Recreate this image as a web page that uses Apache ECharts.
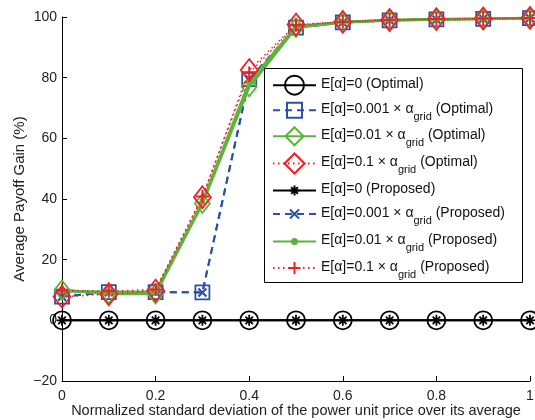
<!DOCTYPE html>
<html><head><meta charset="utf-8">
<script src="https://cdn.jsdelivr.net/npm/echarts@6/dist/echarts.min.js"></script>
<style>html,body{margin:0;padding:0;background:#fff}#c{width:535px;height:420px}</style>
</head><body><div id="c"></div>
<script>
// ---- data ----
const xValues = [0, 0.1, 0.2, 0.3, 0.4, 0.5, 0.6, 0.7, 0.8, 0.9, 1.0];
const optZero   = [0, 0, 0, 0, 0, 0, 0, 0, 0, 0, 0];
const opt001    = [7.8, 9.3, 9.3, 9.2, 79.5, 96.5, 98.2, 98.9, 99.2, 99.4, 99.6];
const opt01     = [10.0, 8.7, 8.7, 38.5, 77.0, 96.5, 98.2, 98.9, 99.2, 99.4, 99.6];
const opt1      = [7.8, 8.6, 9.8, 40.6, 82.5, 97.5, 98.4, 99.0, 99.3, 99.5, 99.7];
const propZero  = [0, 0, 0, 0, 0, 0, 0, 0, 0, 0, 0];
const prop001   = [7.8, 9.3, 9.3, 9.2, 79.5, 96.5, 98.2, 98.9, 99.2, 99.4, 99.6];
const prop01    = [9.6, 9.4, 9.4, 39.0, 78.5, 96.8, 98.3, 99.0, 99.2, 99.4, 99.6];
const prop1     = [9.8, 9.6, 10.2, 40.8, 81.5, 97.3, 98.4, 99.1, 99.3, 99.5, 99.7];
const yTicks = [-20, 0, 20, 40, 60, 80, 100];
const xTicks = [0, 0.2, 0.4, 0.6, 0.8, 1];
const seriesNames = [
  'E[α]=0 (Optimal)',
  'E[α]=0.001 × α_grid (Optimal)',
  'E[α]=0.01 × α_grid (Optimal)',
  'E[α]=0.1 × α_grid (Optimal)',
  'E[α]=0 (Proposed)',
  'E[α]=0.001 × α_grid (Proposed)',
  'E[α]=0.01 × α_grid (Proposed)',
  'E[α]=0.1 × α_grid (Proposed)'
];

// ---- styles ----
const BLACK = '#000000', BLUE = '#2c50a8', GREEN = '#5cb43c', RED = '#ee2026';
const NONE = 'rgba(0,0,0,0)';
const P_AST = 'path://M0,5L10,5M5,0L5,10M1.6,1.6L8.4,8.4M1.6,8.4L8.4,1.6';
const P_X = 'path://M0,0L10,10M0,10L10,0';
const P_PLUS = 'path://M0,5L10,5M5,0L5,10';
const FONT = 'Liberation Sans, Arial, Helvetica, sans-serif';

function pairs(arr) { return xValues.map((x, i) => [x, arr[i]]); }
function mk(name, data, color, lineType, lineWidth, symbol, size, fill, bw, z) {
  return {
    name, type: 'line', data: pairs(data), z,
    symbol, symbolSize: size, symbolKeepAspect: false,
    lineStyle: { color, type: lineType, width: lineWidth },
    itemStyle: { color: fill, borderColor: color, borderWidth: bw },
    emphasis: { disabled: true }, animation: false
  };
}
const DASH = [7, 5], DOT = [1.5, 3.5];
const series = [
  mk(seriesNames[0], optZero, BLACK, 'solid', 2, 'circle', 18, NONE, 1.8, 2),
  mk(seriesNames[1], opt001, BLUE, DASH, 2, 'rect', 14, NONE, 1.8, 3),
  mk(seriesNames[2], opt01, GREEN, 'solid', 2.8, 'diamond', [15, 19], NONE, 1.8, 4),
  mk(seriesNames[3], opt1, RED, DOT, 1.5, 'diamond', [17, 22], NONE, 1.8, 5),
  mk(seriesNames[4], propZero, BLACK, 'solid', 2, P_AST, 11, NONE, 1.8, 2),
  mk(seriesNames[5], prop001, BLUE, DASH, 2, P_X, 8, NONE, 2.2, 3),
  mk(seriesNames[6], prop01, GREEN, 'solid', 2.8, 'circle', 6, GREEN, 0, 4),
  mk(seriesNames[7], prop1, RED, DOT, 1.5, P_PLUS, 13, NONE, 2, 5)
];

// legend layout (one legend per entry so each icon can have its own symbol size)
const legendCenters = [83, 107.5, 134, 161.5, 187, 210.5, 238, 264.5];
const legendSymbolSizes = [19, 15, 18, 20, 10, 9, 7, 12];
const richText = {
  t: { fontSize: 14, fontFamily: FONT, color: '#111', lineHeight: 16, verticalAlign: 'top' },
  s: { fontSize: 11, fontFamily: FONT, color: '#111', lineHeight: 2, padding: [9, 0, 0, 0], verticalAlign: 'top' }
};
function fmt(name) {
  if (name.indexOf('α_grid') < 0) return '{t|' + name + '}';
  const parts = name.split('α_grid');
  return '{t|' + parts[0] + 'α}{s|grid}{t|' + parts[1] + '}';
}
const LEGEND_SHIFT = 3.5;
const legends = seriesNames.map((name, i) => {
  const ih = legendSymbolSizes[i] / 0.8;
  const h = Math.max(ih, 16);
  return {
    data: [name], orient: 'vertical', left: 272, top: legendCenters[i] - h / 2 + LEGEND_SHIFT,
    padding: 0, itemGap: 0, itemWidth: 43, itemHeight: ih, z: 20,
    textStyle: { fontSize: 14, fontFamily: FONT, color: '#111', rich: richText },
    formatter: fmt, selectedMode: false
  };
});

const chart = echarts.init(document.getElementById('c'), null, { renderer: 'canvas' });
chart.setOption({
  backgroundColor: '#fff',
  animation: false,
  textStyle: { fontFamily: FONT },
  grid: { left: 62, right: 5, top: 17, bottom: 39, outerBoundsMode: 'none', containLabel: false },
  xAxis: {
    type: 'value', min: xTicks[0], max: xTicks[xTicks.length - 1], interval: 0.2,
    name: 'Normalized standard deviation of the power unit price over its average',
    nameLocation: 'middle', nameGap: 22, nameMoveOverlap: false,
    nameTextStyle: { color: '#222', fontSize: 14.5, fontFamily: FONT },
    axisLine: { show: true, onZero: false, lineStyle: { color: '#000', width: 1 } },
    axisTick: { show: true, inside: true, length: 5, lineStyle: { color: '#000' } },
    axisLabel: { color: '#222', fontSize: 14, margin: 8, fontFamily: FONT },
    splitLine: { show: false }
  },
  yAxis: {
    type: 'value', min: yTicks[0], max: yTicks[yTicks.length - 1], interval: 20,
    name: 'Average Payoff Gain (%)',
    nameLocation: 'middle', nameGap: 35, nameRotate: 90, nameMoveOverlap: false,
    nameTextStyle: { color: '#222', fontSize: 15, fontFamily: FONT },
    axisLine: { show: true, onZero: false, lineStyle: { color: '#000', width: 1 } },
    axisTick: { show: true, inside: true, length: 5, lineStyle: { color: '#000' } },
    axisLabel: { color: '#222', fontSize: 14, margin: 5, fontFamily: FONT,
      formatter: v => String(v).replace('-', '\u2212') },
    splitLine: { show: false }
  },
  graphic: [{
    type: 'rect', z: 10, silent: true,
    shape: { x: 264.5, y: 68.5, width: 258, height: 214 },
    style: { fill: '#fff', stroke: '#000', lineWidth: 1 }
  }],
  legend: legends,
  series
});
</script></body></html>
